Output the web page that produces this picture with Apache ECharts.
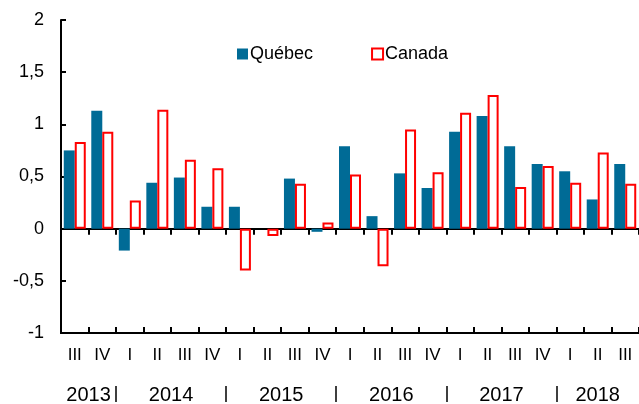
<!DOCTYPE html>
<html>
<head>
<meta charset="utf-8">
<script src="https://cdn.jsdelivr.net/npm/echarts@6/dist/echarts.min.js"></script>
<style>
  html, body { margin: 0; padding: 0; background: #fff; }
  #chart { width: 639px; height: 404px; }
</style>
</head>
<body>
<div id="chart"></div>
<script>
// quarters shown on the axis, and the year each one belongs to
const quarters = ['III', 'IV', 'I', 'II', 'III', 'IV', 'I', 'II', 'III', 'IV', 'I', 'II', 'III', 'IV', 'I', 'II', 'III', 'IV', 'I', 'II', 'III'];
const quarterYears = [2013, 2013, 2014, 2014, 2014, 2014, 2015, 2015, 2015, 2015, 2016, 2016, 2016, 2016, 2017, 2017, 2017, 2017, 2018, 2018, 2018];

const quebec = [0.75, 1.13, -0.21, 0.44, 0.49, 0.21, 0.21, 0, 0.48, -0.03, 0.79, 0.12, 0.53, 0.39, 0.93, 1.08, 0.79, 0.62, 0.55, 0.28, 0.62];
const canada = [0.83, 0.93, 0.27, 1.14, 0.66, 0.58, -0.40, -0.07, 0.43, 0.06, 0.52, -0.36, 0.95, 0.54, 1.11, 1.28, 0.40, 0.60, 0.44, 0.73, 0.43];

const yTicks = [-1, -0.5, 0, 0.5, 1, 1.5, 2];

// year groups -> label centres and separator positions (in category units)
let groups = [];
quarterYears.forEach((y, i) => {
  let g = groups[groups.length - 1];
  if (!g || g.year !== y) groups.push({ year: y, start: i, end: i + 1 });
  else g.end = i + 1;
});
const yearCenters = groups.map(g => (g.start + g.end) / 2);
const yearSeps = groups.slice(1).map(g => g.start);

const font = 'Arial, "Liberation Sans", sans-serif';
const chart = echarts.init(document.getElementById('chart'));

chart.setOption({
  animation: false,
  textStyle: { fontFamily: font },
  legend: {
    left: 232,
    top: 40,
    itemWidth: 11,
    itemHeight: 11,
    itemGap: 58,
    textStyle: { fontSize: 18, color: '#000', fontFamily: font, padding: [0, 0, 0, -3] },
    data: [
      { name: 'Québec', icon: 'rect' },
      { name: 'Canada', icon: 'rect', itemStyle: { color: '#fff', borderColor: '#ff0000', borderWidth: 2 } }
    ]
  },
  grid: { left: 61, right: 0, top: 20, bottom: 71, outerBoundsMode: 'none' },
  xAxis: [
    {
      // zero line with ticks below
      type: 'category',
      data: quarters,
      position: 'bottom',
      axisLine: { onZero: true, lineStyle: { color: '#000', width: 2 } },
      axisTick: { show: true, length: 6, lineStyle: { color: '#000', width: 2 } },
      axisLabel: { show: false }
    },
    {
      // bottom line with quarter labels
      type: 'category',
      data: quarters,
      position: 'bottom',
      axisLine: { onZero: false, lineStyle: { color: '#000', width: 2 } },
      axisTick: { show: false },
      axisLabel: { margin: 14, fontSize: 17, color: '#000', fontFamily: font }
    },
    {
      // year row
      type: 'value',
      min: 0,
      max: quarters.length,
      position: 'bottom',
      offset: 53,
      axisLine: { show: false, onZero: false },
      splitLine: { show: false },
      axisTick: { show: true, customValues: yearSeps, length: 16, lineStyle: { color: '#000', width: 1.5 } },
      axisLabel: {
        customValues: yearCenters,
        margin: -1,
        fontSize: 20,
        color: '#000',
        fontFamily: font,
        formatter: v => {
          const idx = yearCenters.indexOf(v);
          return idx >= 0 ? String(groups[idx].year) : '';
        }
      }
    },
    {
      // zero line ticks above
      type: 'category',
      data: quarters,
      position: 'bottom',
      axisLine: { onZero: true, lineStyle: { color: '#000', width: 2 } },
      axisTick: { show: true, inside: true, length: 6, lineStyle: { color: '#000', width: 2 } },
      axisLabel: { show: false }
    }
  ],
  yAxis: {
    type: 'value',
    min: yTicks[0],
    max: yTicks[yTicks.length - 1],
    interval: 0.5,
    axisLine: { show: true, lineStyle: { color: '#000', width: 2 } },
    axisTick: { show: true, inside: true, length: 5, lineStyle: { color: '#000', width: 2 } },
    splitLine: { show: false },
    axisLabel: {
      margin: 17,
      fontSize: 18,
      color: '#000',
      fontFamily: font,
      formatter: v => String(v).replace('.', ',')
    }
  },
  series: [
    {
      name: 'Québec',
      type: 'bar',
      xAxisIndex: 0,
      data: quebec,
      barWidth: 11,
      barGap: '0%',
      itemStyle: { color: '#006b96' }
    },
    {
      name: 'Canada',
      type: 'bar',
      xAxisIndex: 0,
      data: canada,
      barWidth: 11,
      itemStyle: { color: '#fff', borderColor: '#ff0000', borderWidth: 2 }
    }
  ]
});
</script>
</body>
</html>
